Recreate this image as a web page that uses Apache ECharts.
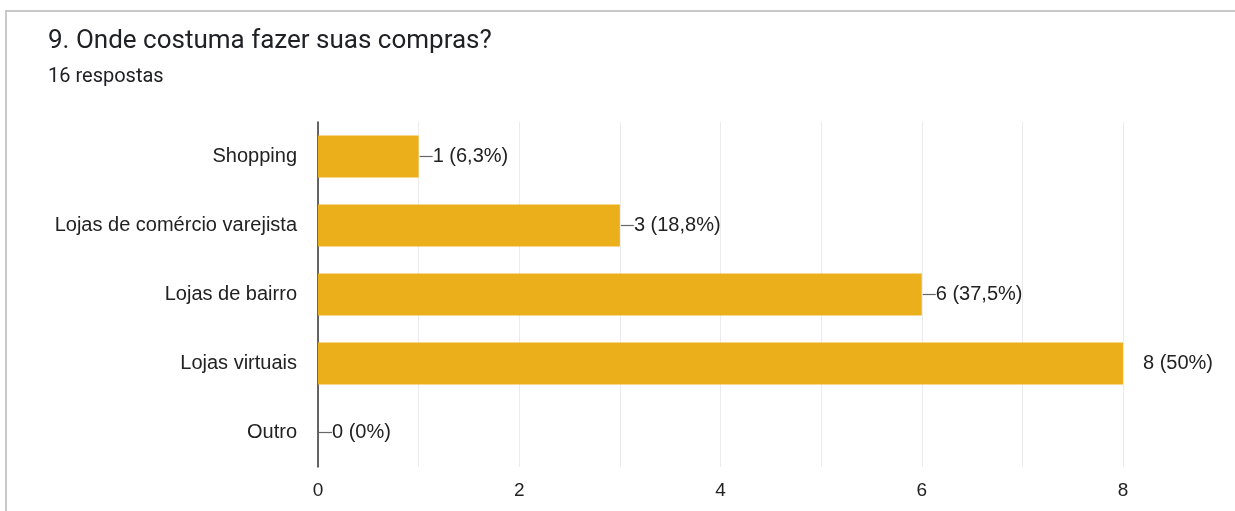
<!DOCTYPE html>
<html>
<head>
<meta charset="utf-8">
<script src="https://cdn.jsdelivr.net/npm/echarts@6/dist/echarts.min.js"></script>
<style>
  html, body { margin: 0; padding: 0; background: #fff; }
  #chart { width: 1235px; height: 511px; }
</style>
</head>
<body>
<div id="chart"></div>
<script>
const titleText = '9. Onde costuma fazer suas compras?';
const subtitleText = '16 respostas';
const categories = ['Shopping', 'Lojas de comércio varejista', 'Lojas de bairro', 'Lojas virtuais', 'Outro'];
const counts = [1, 3, 6, 8, 0];
const percents = ['6,3%', '18,8%', '37,5%', '50%', '0%'];

const barColor = '#ECAF1C';
const labelFont = 'Liberation Sans';

const chart = echarts.init(document.getElementById('chart'), null, { renderer: 'canvas' });

const seriesData = counts.map((v, i) => {
  const item = { value: v };
  if (v === 8) {
    // the longest bar: label sits a little further out without the leader dash
    item.label = { distance: 20, formatter: p => `{t|${p.value} (${percents[p.dataIndex]})}` };
  }
  return item;
});

chart.setOption({
  animation: false,
  title: [
    {
      text: titleText,
      left: 43, top: 23,
      textStyle: { fontFamily: 'Roboto', fontSize: 26, fontWeight: 'normal', color: '#202124' }
    },
    {
      text: subtitleText,
      left: 43, top: 62,
      textStyle: { fontFamily: 'Roboto', fontSize: 20, fontWeight: 'normal', color: '#202124' }
    }
  ],
  graphic: [
    { type: 'line', shape: { x1: 5, y1: 11, x2: 1235, y2: 11 }, style: { stroke: '#c8c8c8', lineWidth: 2 } },
    { type: 'line', shape: { x1: 6, y1: 10, x2: 6, y2: 511 }, style: { stroke: '#c8c8c8', lineWidth: 2 } }
  ],
  grid: { left: 318, right: 112, top: 122, bottom: 44, containLabel: false },
  xAxis: {
    type: 'value',
    min: 0, max: 8, interval: 1,
    axisLine: { show: false },
    axisTick: { show: false },
    splitLine: { show: true, lineStyle: { color: '#ebebeb', width: 1 } },
    axisLabel: {
      formatter: v => (v % 2 === 0 ? String(v) : ''),
      fontFamily: labelFont, fontSize: 19, color: '#222', margin: 14
    }
  },
  yAxis: {
    type: 'category',
    data: categories,
    inverse: true,
    axisLine: { show: true, onZero: false, lineStyle: { color: '#333', width: 1.5 } },
    axisTick: { show: false },
    splitLine: { show: false },
    axisLabel: { fontFamily: labelFont, fontSize: 20, color: '#222', margin: 21 }
  },
  series: [{
    type: 'bar',
    data: seriesData,
    barWidth: 42,
    itemStyle: { color: barColor },
    label: {
      show: true,
      position: 'right',
      distance: 1,
      formatter: p => `{d|}{t|${p.value} (${percents[p.dataIndex]})}`,
      rich: {
        d: { width: 13, height: 1.2, backgroundColor: '#666', verticalAlign: 'middle' },
        t: { fontFamily: labelFont, fontSize: 20, color: '#222', verticalAlign: 'middle' }
      }
    }
  }]
});
</script>
</body>
</html>
